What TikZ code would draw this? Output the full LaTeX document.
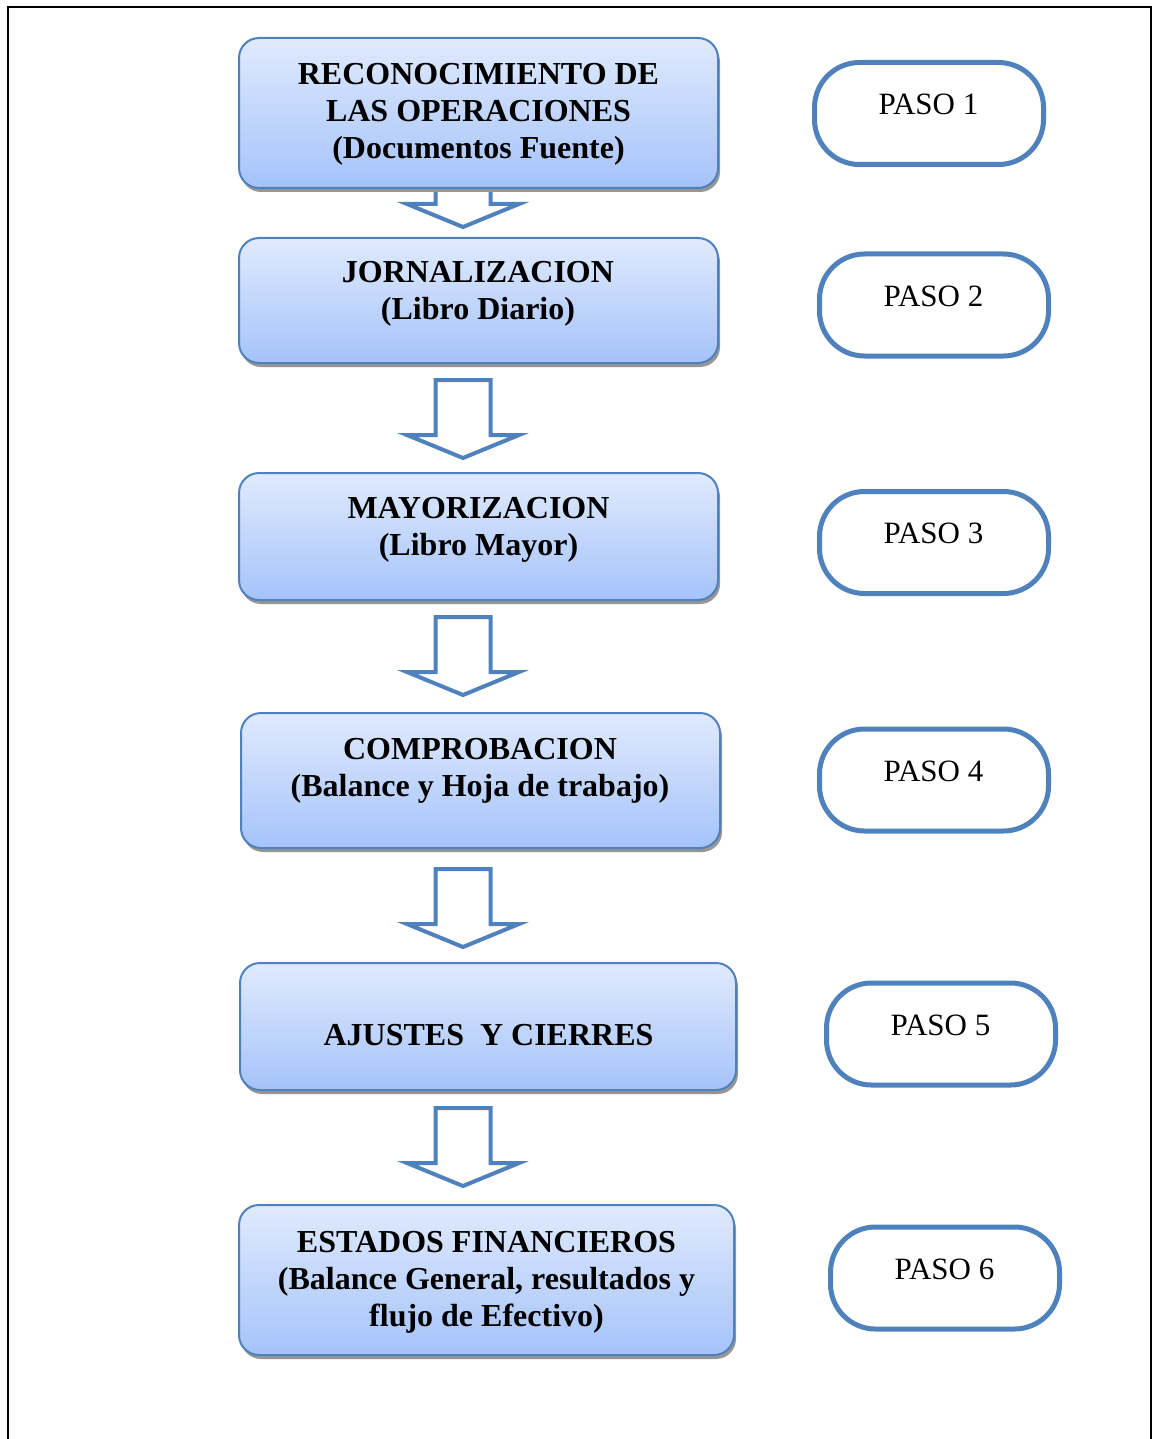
\documentclass[tikz,border=0pt]{standalone}
\usepackage{fontspec}
\setmainfont{Liberation Serif}
\usetikzlibrary{shadows}
\definecolor{stepblue}{RGB}{79,129,189}
\definecolor{boxtop}{RGB}{224,234,253}
\definecolor{boxbot}{RGB}{165,195,250}
\definecolor{shadowgray}{RGB}{150,150,150}
\tikzset{
  stagebox/.style={draw=stepblue, line width=2pt, rounded corners=20pt,
    top color=boxtop, bottom color=boxbot,
    drop shadow={shadow xshift=2pt, shadow yshift=-4pt, fill=shadowgray, opacity=1},
    inner sep=0pt},
  stagetext/.style={align=center, font=\fontsize{32}{37}\selectfont\bfseries, inner sep=0pt},
  pasobox/.style={draw=stepblue, line width=5pt, rounded corners=45pt, fill=white, inner sep=0pt,
    minimum width=229pt, minimum height=102pt},
  pasotext/.style={font=\fontsize{31}{36}\selectfont, inner sep=0pt},
  blockarrow/.pic={
    \draw[draw=stepblue, fill=white, line width=4pt, line join=miter]
      (-27.5,0) -- (-27.5,55) -- (-56,55) -- (0,78) -- (56,55) -- (27.5,55) -- (27.5,0) -- cycle;
  }
}
\begin{document}
\begin{tikzpicture}[x=1pt, y=-1pt]
\useasboundingbox (0,0) rectangle (1158,1439);
% outer frame
\draw[line width=2.5pt] (8,1440) -- (8,7) -- (1151,7) -- (1151,1440);

% block arrows (drawn first so boxes overlap them)
\coordinate (a1) at (463,149);
\coordinate (a2) at (463,380);
\coordinate (a3) at (463,617);
\coordinate (a4) at (463,869);
\coordinate (a5) at (463,1108);
\pic at (a1) {blockarrow};
\pic at (a2) {blockarrow};
\pic at (a3) {blockarrow};
\pic at (a4) {blockarrow};
\pic at (a5) {blockarrow};

% stage boxes
\node[stagebox, minimum width=479pt, minimum height=150pt] (b1) at (478.5,113) {};
\node[stagebox, minimum width=479pt, minimum height=125pt] (b2) at (478.5,300.5) {};
\node[stagebox, minimum width=479pt, minimum height=127pt] (b3) at (478.5,536.5) {};
\node[stagebox, minimum width=479pt, minimum height=135pt] (b4) at (480.5,780.5) {};
\node[stagebox, minimum width=496pt, minimum height=127pt] (b5) at (488,1026.5) {};
\node[stagebox, minimum width=495pt, minimum height=150pt] (b6) at (486.5,1280) {};

\node[stagetext] (t1) at (478.5,114) {RECONOCIMIENTO DE\\LAS OPERACIONES\\(Documentos Fuente)};
\node[stagetext] (t2) at (478,294) {JORNALIZACION\\(Libro Diario)};
\node[stagetext] (t3) at (478.5,530) {MAYORIZACION\\(Libro Mayor)};
\node[stagetext] (t4) at (480,771) {COMPROBACION\\(Balance y Hoja de trabajo)};
\node[stagetext] (t5) at (488.5,1035) {AJUSTES\ \ Y CIERRES};
\node[stagetext] (t6) at (486.5,1282) {ESTADOS FINANCIEROS\\(Balance General, resultados y\\flujo de Efectivo)};

% paso boxes
\node[pasobox] (p1) at (929,113.5) {};
\node[pasobox] (p2) at (934,305) {};
\node[pasobox] (p3) at (934,542.5) {};
\node[pasobox] (p4) at (934,780) {};
\node[pasobox] (p5) at (941,1034) {};
\node[pasobox] (p6) at (945,1278) {};

\node[pasotext] (q1) at (928.5,104) {PASO 1};
\node[pasotext] (q2) at (933.5,296) {PASO 2};
\node[pasotext] (q3) at (933.5,533) {PASO 3};
\node[pasotext] (q4) at (933.5,771) {PASO 4};
\node[pasotext] (q5) at (940.5,1025) {PASO 5};
\node[pasotext] (q6) at (944.5,1269) {PASO 6};
\end{tikzpicture}
\end{document}
